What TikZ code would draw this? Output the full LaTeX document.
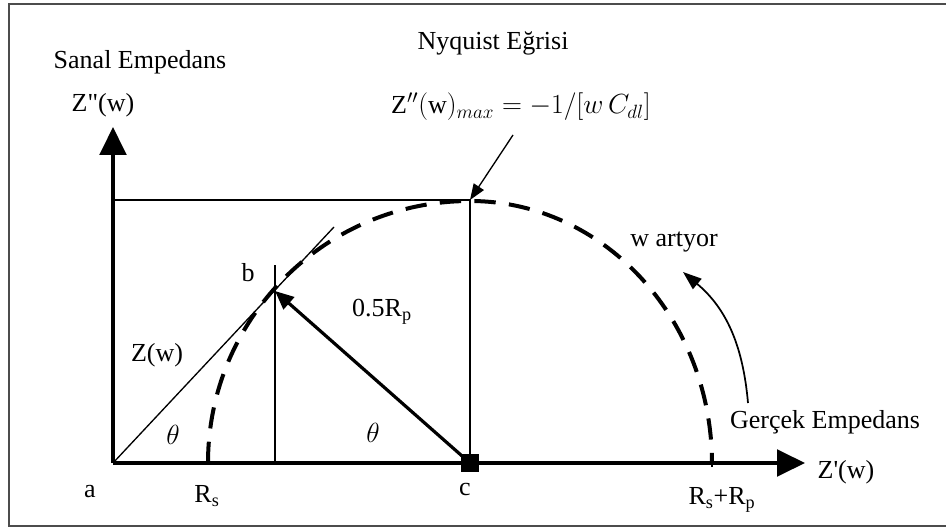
\documentclass[tikz,border=0pt]{standalone}
\usepackage{fontspec}
\setmainfont{Liberation Serif}
\usetikzlibrary{arrows.meta}
\tikzset{
  lbl/.style={inner sep=0pt, font=\fontsize{19.5}{23}\selectfont},
  thinline/.style={line width=1pt},
  axis/.style={line width=2.4pt, -{Triangle[length=21pt,width=20pt]}},
  nyq/.style={line width=3pt, dash pattern=on 16pt off 10pt},
}
\begin{document}
\begin{tikzpicture}[x=0.75pt,y=0.75pt]
\useasboundingbox (0,0) rectangle (946,529);
\draw[line width=1.2pt, black!70] (946,525) -- (9,525) -- (9,3) -- (946,3);

\coordinate (a) at (113,66);
\coordinate (ytop) at (113,402);
\coordinate (xend) at (805,66);
\coordinate (c) at (470,66);
\coordinate (peak) at (470,329);
\coordinate (corner) at (113,329);
\coordinate (b) at (275,238);
\coordinate (bfoot) at (275,66);
\coordinate (btop) at (275,264);
\coordinate (zend) at (334,302);
\coordinate (rs) at (208,66);
\coordinate (rsrp) at (712,66);
\coordinate (maxptr) at (513,394);
\coordinate (gtail) at (748,126);
\coordinate (ghead) at (683,257);

\draw[thinline] (corner) -- (peak) -- (c);
\draw[thinline] (bfoot) -- (btop);
\draw[thinline] (a) -- (zend);
\draw[nyq] (rs) arc[start angle=180, end angle=90, radius=262]
  arc[start angle=90, end angle=0, x radius=242, y radius=263];
\draw[axis] (a) -- (ytop);
\draw[axis] (a) -- (xend);
\draw[line width=2pt] (rsrp) ++(0,-4) -- ++(0,8);
\node[fill, minimum size=13.5pt, inner sep=0pt] (csq) at (c) {};
\draw[line width=2.4pt, -{Triangle[length=14pt,width=12pt]}] (c) -- (b);
\draw[thinline, -{Triangle[length=12pt,width=9pt]}] (maxptr) -- (peak);
\draw[line width=1.3pt, -{Triangle[length=14pt,width=10pt]}] (gtail) to[out=95, in=-40] (ghead);

\node[lbl] (sanal) at (140,467) {Sanal Empedans};
\node[lbl] (zim) at (103,424) {Z\textquotedbl(w)};
\node[lbl] (nyquist) at (493,486) {Nyquist Eğrisi};
\node[lbl] (zmax) at (521,422) {$\mathrm{Z}''(\mathrm{w})_{max} = -1/[w\,C_{dl}]$};
\node[lbl] (blbl) at (248,256) {b};
\node[lbl] (zw) at (157,174) {Z(w)};
\node[lbl] (half) at (382,217) {0.5R\textsubscript{p}};
\node[lbl] (th1) at (173,94) {$\theta$};
\node[lbl] (th2) at (373,96) {$\theta$};
\node[lbl, anchor=base] (alb) at (90,32) {a};
\node[lbl, anchor=base] (rslb) at (207,27) {R\textsubscript{s}};
\node[lbl, anchor=base] (clb) at (465,34) {c};
\node[lbl, anchor=base] (rsrplb) at (722,25) {R\textsubscript{s}+R\textsubscript{p}};
\node[lbl] (zre) at (846,57) {Z\textquotesingle(w)};
\node[lbl] (gercek) at (825,107) {Gerçek Empedans};
\node[lbl] (wart) at (674,287) {w artyor};
\end{tikzpicture}
\end{document}
